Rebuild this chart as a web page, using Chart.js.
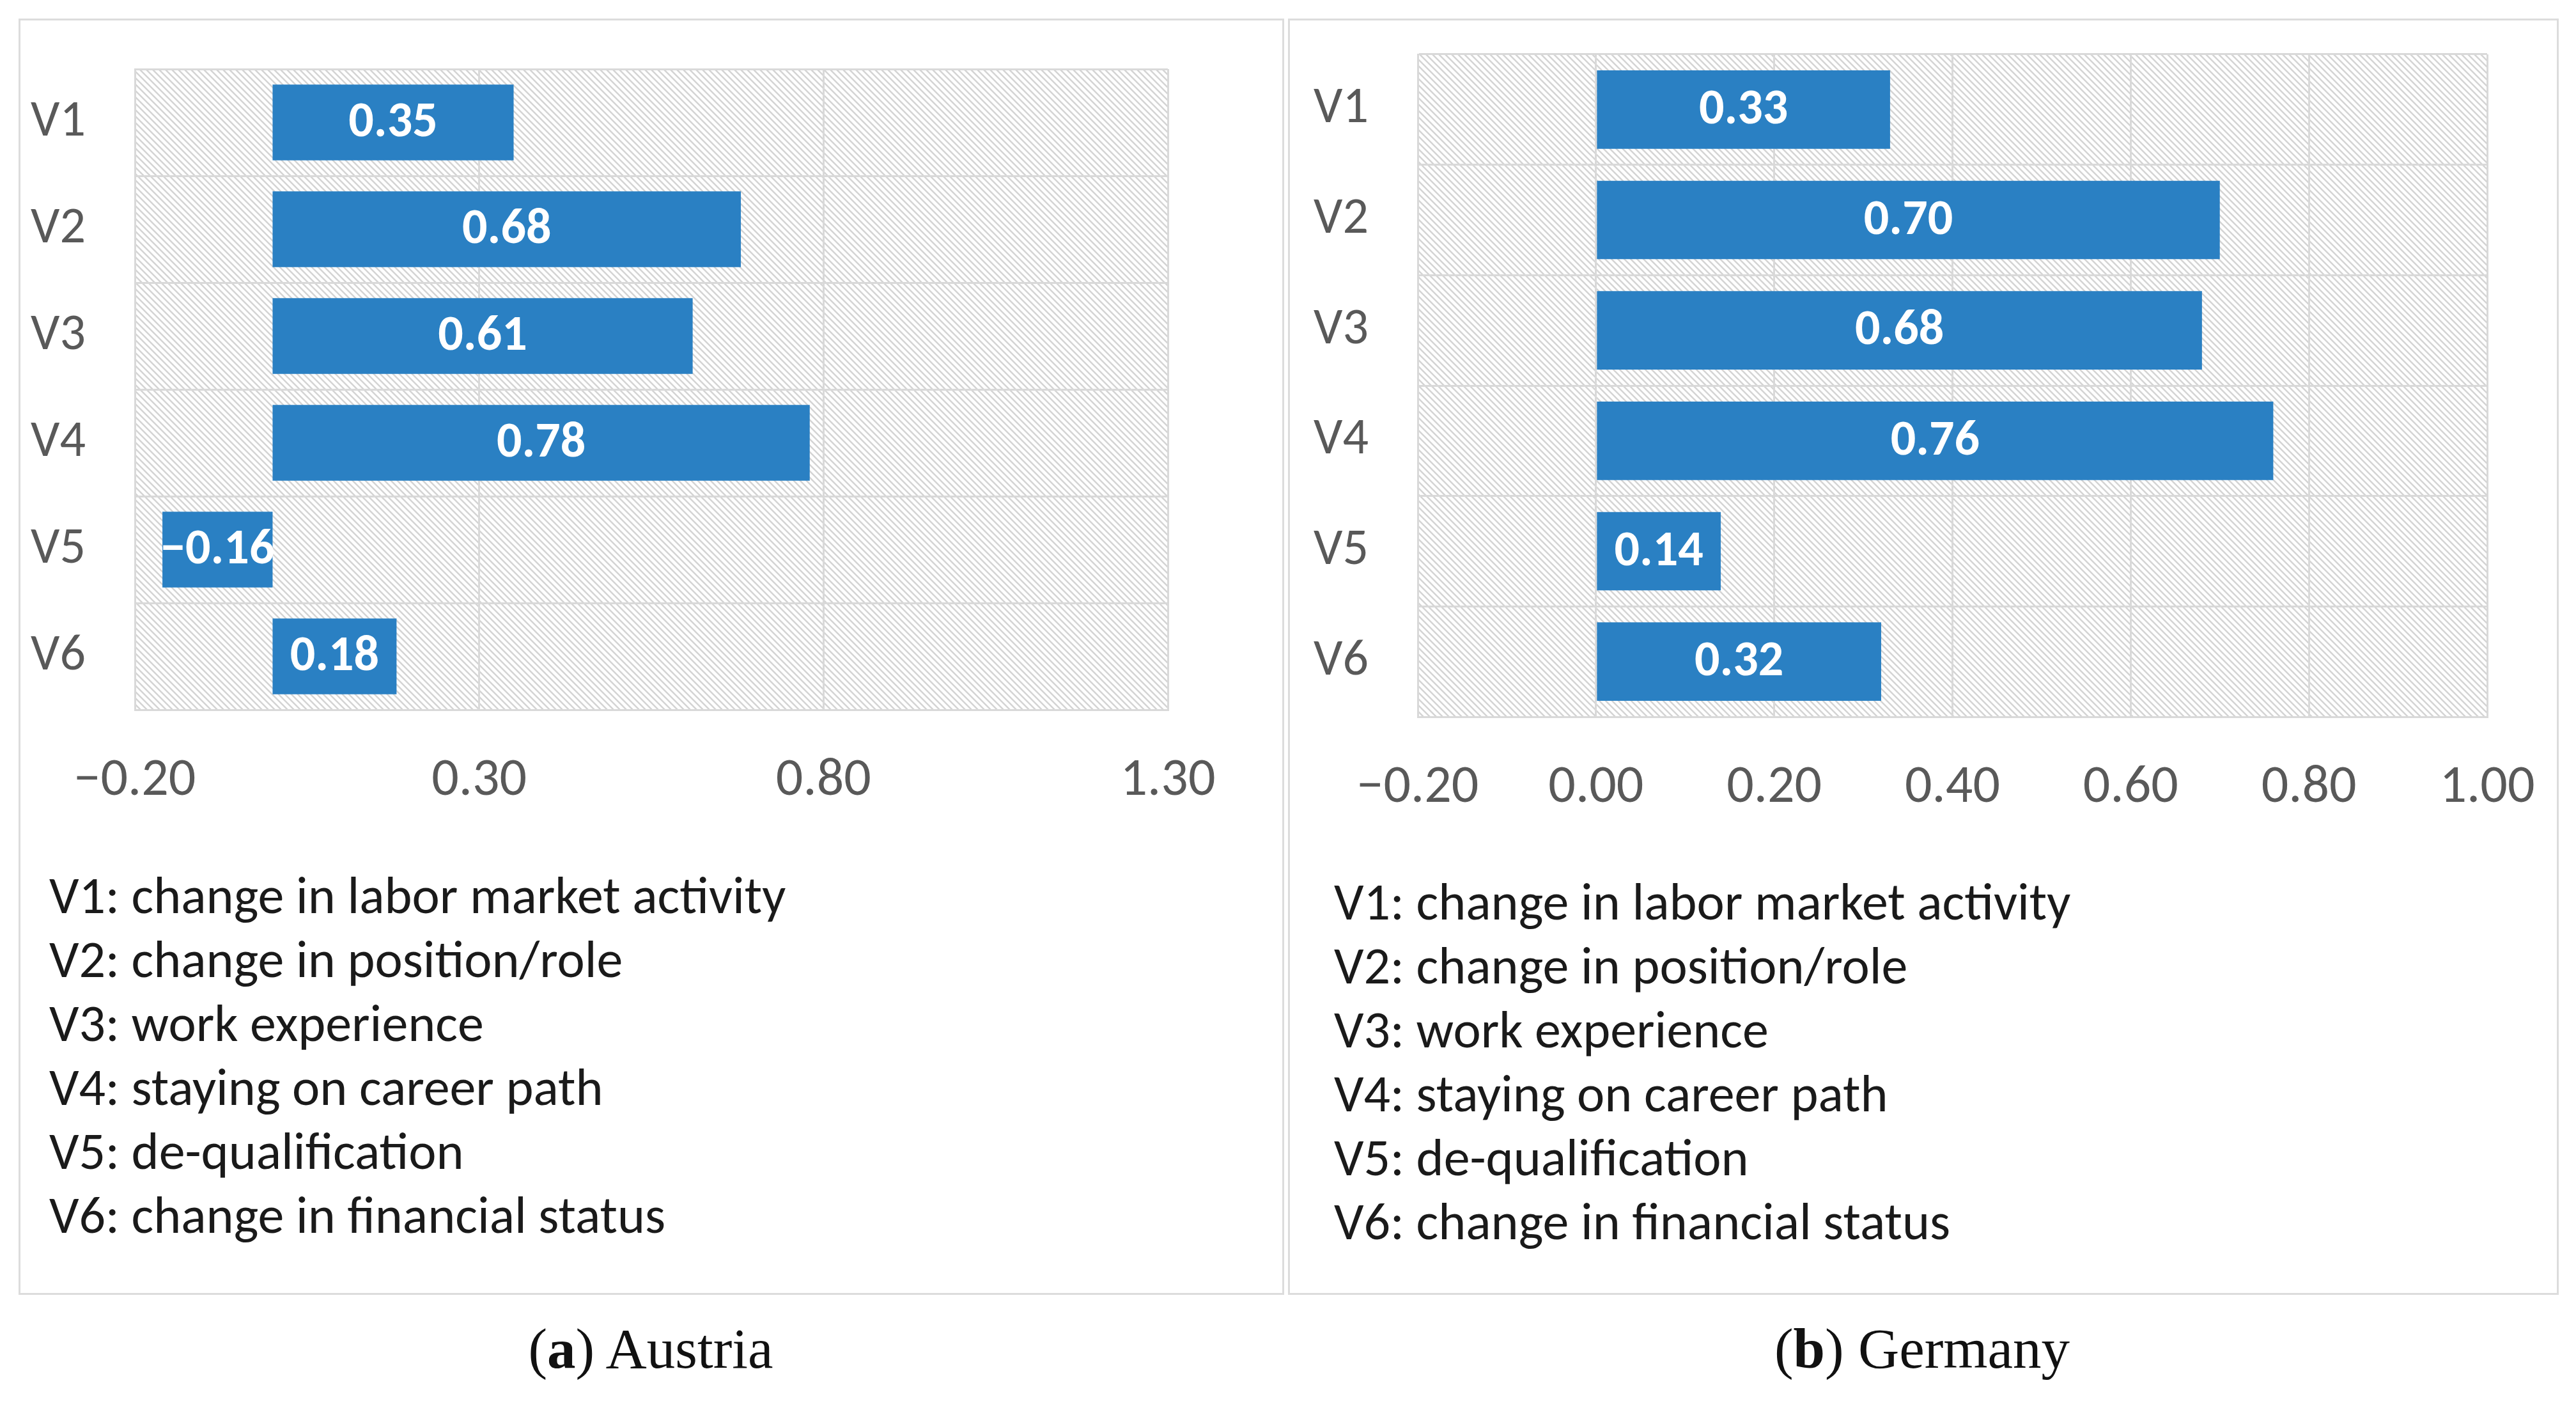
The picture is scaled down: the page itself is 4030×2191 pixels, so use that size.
<!DOCTYPE html>
<html>
<head>
<meta charset="utf-8">
<script src="https://cdn.jsdelivr.net/npm/chart.js@4.4.1/dist/chart.umd.min.js"></script>
<style>
  html, body { margin: 0; padding: 0; background: #fff; }
  body { width: 4030px; height: 2191px; position: relative; overflow: hidden;
         font-family: Carlito, "Liberation Sans Narrow", Lato, sans-serif; }
  .panel { position: absolute; border: 3px solid #dcdcdc; box-sizing: border-box; }
  .box { position: absolute; }
  .legend { position: absolute; font-size: 82px; color: #1a1a1a; line-height: 100px; white-space: nowrap; }
  .caption { position: absolute; font-family: "Liberation Serif", "DejaVu Serif", serif; font-size: 89px;
             color: #111; white-space: nowrap; transform: translateX(-50%); }
</style>
</head>
<body>
<div class="panel" style="left:29px;top:29px;width:1980px;height:1996px;"></div>
<div class="panel" style="left:2015px;top:29px;width:1988px;height:1996px;"></div>

<div class="box" style="left:31px;top:31px;width:1976px;height:1250px;"><canvas id="austriaChart"></canvas></div>
<div class="box" style="left:2017px;top:31px;width:1984px;height:1261px;"><canvas id="germanyChart"></canvas></div>

<div class="legend" id="austriaLegend" style="left:77px;top:1350px;"></div>
<div class="legend" id="germanyLegend" style="left:2087px;top:1360px;"></div>

<div class="caption" style="left:1018px;top:2058px;">(<b>a</b>) Austria</div>
<div class="caption" style="left:3007px;top:2058px;">(<b>b</b>) Germany</div>

<script>
// ===============================
// DATA
// ===============================
const categories = ["V1", "V2", "V3", "V4", "V5", "V6"];
const austriaValues = [0.35, 0.68, 0.61, 0.78, -0.16, 0.18];
const germanyValues = [0.33, 0.70, 0.68, 0.76, 0.14, 0.32];
const austriaTicks = [-0.2, 0.3, 0.8, 1.3];
const germanyTicks = [-0.2, 0.0, 0.2, 0.4, 0.6, 0.8, 1.0];
const legendLines = [
  "V1: change in labor market activity",
  "V2: change in position/role",
  "V3: work experience",
  "V4: staying on career path",
  "V5: de-qualification",
  "V6: change in financial status"
];

// ===============================
// HELPERS
// ===============================
const FONT = "Carlito, 'Liberation Sans Narrow', Lato, sans-serif";
const BAR_BLUE = "#2a80c3";
const GRID = "#d9d9d9";

function fmt(v) {
  if (Math.abs(v) < 1e-9) v = 0;
  return v.toFixed(2).replace("-", "\u2212");
}

function makeHatch(ctx) {
  const c = document.createElement("canvas");
  c.width = 10; c.height = 10;
  const g = c.getContext("2d");
  g.fillStyle = "#ffffff";
  g.fillRect(0, 0, 10, 10);
  g.strokeStyle = "#d4d4d4";
  g.lineWidth = 2.5;
  g.beginPath();
  g.moveTo(-2, -2); g.lineTo(12, 12);
  g.moveTo(-2, 8); g.lineTo(2, 12);
  g.moveTo(8, -2); g.lineTo(12, 2);
  g.stroke();
  return ctx.createPattern(c, "repeat");
}

// hatched plot background
const hatchPlugin = {
  id: "hatch",
  beforeDraw(chart) {
    const a = chart.chartArea;
    const ctx = chart.ctx;
    ctx.save();
    ctx.fillStyle = makeHatch(ctx);
    ctx.fillRect(a.left, a.top, a.right - a.left, a.bottom - a.top);
    ctx.restore();
  }
};

// white value labels centred in the bars
const valueLabels = {
  id: "valueLabels",
  afterDatasetsDraw(chart) {
    const ctx = chart.ctx;
    const meta = chart.getDatasetMeta(0);
    const data = chart.data.datasets[0].data;
    ctx.save();
    ctx.fillStyle = "#ffffff";
    ctx.font = "bold 78px " + FONT;
    ctx.textAlign = "center";
    ctx.textBaseline = "middle";
    meta.data.forEach((bar, i) => {
      const x = (bar.x + bar.base) / 2;
      ctx.fillText(fmt(data[i]), x, bar.y + 2);
    });
    ctx.restore();
  }
};

function noPad(s) {
  s.paddingTop = 0; s.paddingBottom = 0; s.paddingLeft = 0; s.paddingRight = 0;
}

function buildChart(id, values, ticks, yWidth, pad) {
  return new Chart(document.getElementById(id), {
    type: "bar",
    data: {
      labels: categories,
      datasets: [{
        data: values,
        backgroundColor: BAR_BLUE,
        borderWidth: 0,
        barPercentage: 0.71,
        categoryPercentage: 1.0
      }]
    },
    options: {
      indexAxis: "y",
      responsive: true,
      maintainAspectRatio: false,
      devicePixelRatio: 1,
      animation: false,
      layout: { padding: pad },
      plugins: { legend: { display: false }, tooltip: { enabled: false } },
      scales: {
        x: {
          min: ticks[0],
          max: ticks[ticks.length - 1],
          afterBuildTicks: s => { s.ticks = ticks.map(v => ({ value: v })); },
          afterFit: s => { s.height = 171; noPad(s); },
          grid: { color: GRID, lineWidth: 3, drawTicks: false },
          border: { display: true, color: GRID, width: 3 },
          ticks: {
            padding: 62,
            color: "#595959",
            font: { family: FONT, size: 84 },
            callback: v => fmt(v)
          }
        },
        y: {
          afterFit: s => { s.width = yWidth; noPad(s); },
          grid: { color: GRID, lineWidth: 3, drawTicks: false, offset: true },
          border: { display: true, color: GRID, width: 3 },
          ticks: {
            padding: 77,
            color: "#595959",
            font: { family: FONT, size: 80 }
          }
        }
      }
    },
    plugins: [hatchPlugin, valueLabels]
  });
}

buildChart("austriaChart", austriaValues, austriaTicks, 180, { top: 77, right: 180, left: 0, bottom: 0 });
buildChart("germanyChart", germanyValues, germanyTicks, 201, { top: 54, right: 110, left: 0, bottom: 0 });

// ===============================
// LEGEND TEXT
// ===============================
["austriaLegend", "germanyLegend"].forEach(id => {
  document.getElementById(id).innerHTML = legendLines.map(t => "<div>" + t + "</div>").join("");
});
</script>
</body>
</html>
